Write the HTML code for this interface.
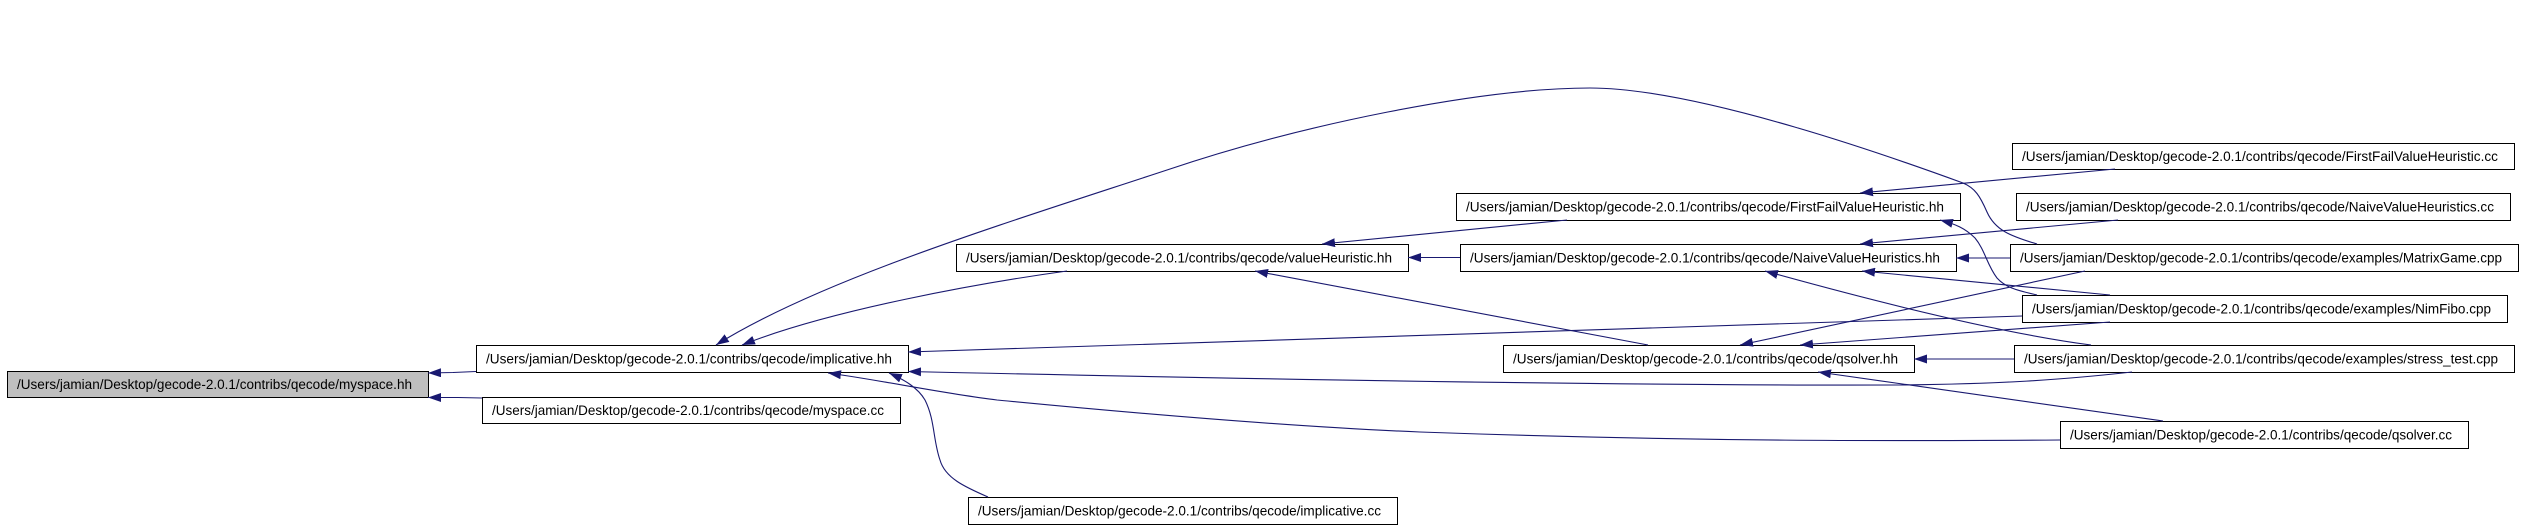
<!DOCTYPE html>
<html>
<head>
<meta charset="utf-8">
<style>
  html, body { margin: 0; padding: 0; background: #ffffff; }
  body { width: 2523px; height: 529px; overflow: hidden; }
  svg { display: block; }
  .n { fill: #ffffff; stroke: #000000; stroke-width: 1; }
  .g { fill: #bfbfbf; stroke: #000000; stroke-width: 1; }
  .t { font-family: "Liberation Sans", Arial, Helvetica, sans-serif; font-size: 13.55px; fill: #000000; }
  .e { fill: none; stroke: #191970; stroke-width: 1.1; }
</style>
</head>
<body>
<svg xmlns="http://www.w3.org/2000/svg" width="2523" height="529" viewBox="0 0 2523 529">
  <defs>
    <marker id="a" markerWidth="13" markerHeight="9" refX="13" refY="4.5" orient="auto" markerUnits="userSpaceOnUse">
      <path d="M0,0 L13,4.5 L0,9 z" fill="#191970"/>
    </marker>
  </defs>

  <!-- nodes -->
  <rect class="g" x="7.5" y="371.5" width="421" height="26"/>
  <text class="t" x="17" y="389" textLength="395" lengthAdjust="spacingAndGlyphs">/Users/jamian/Desktop/gecode-2.0.1/contribs/qecode/myspace.hh</text>

  <rect class="n" x="476.5" y="345.5" width="432" height="27"/>
  <text class="t" x="486" y="363.5" textLength="406" lengthAdjust="spacingAndGlyphs">/Users/jamian/Desktop/gecode-2.0.1/contribs/qecode/implicative.hh</text>

  <rect class="n" x="482.5" y="397.5" width="418" height="26"/>
  <text class="t" x="492" y="415" textLength="392" lengthAdjust="spacingAndGlyphs">/Users/jamian/Desktop/gecode-2.0.1/contribs/qecode/myspace.cc</text>

  <rect class="n" x="956.5" y="244.5" width="452" height="27"/>
  <text class="t" x="966" y="262.5" textLength="426" lengthAdjust="spacingAndGlyphs">/Users/jamian/Desktop/gecode-2.0.1/contribs/qecode/valueHeuristic.hh</text>

  <rect class="n" x="968.5" y="497.5" width="429" height="27"/>
  <text class="t" x="978" y="515.5" textLength="403" lengthAdjust="spacingAndGlyphs">/Users/jamian/Desktop/gecode-2.0.1/contribs/qecode/implicative.cc</text>

  <rect class="n" x="1456.5" y="193.5" width="504" height="27"/>
  <text class="t" x="1466" y="211.5" textLength="478" lengthAdjust="spacingAndGlyphs">/Users/jamian/Desktop/gecode-2.0.1/contribs/qecode/FirstFailValueHeuristic.hh</text>

  <rect class="n" x="1460.5" y="244.5" width="496" height="27"/>
  <text class="t" x="1470" y="262.5" textLength="470" lengthAdjust="spacingAndGlyphs">/Users/jamian/Desktop/gecode-2.0.1/contribs/qecode/NaiveValueHeuristics.hh</text>

  <rect class="n" x="1503.5" y="345.5" width="411" height="27"/>
  <text class="t" x="1513" y="363.5" textLength="385" lengthAdjust="spacingAndGlyphs">/Users/jamian/Desktop/gecode-2.0.1/contribs/qecode/qsolver.hh</text>

  <rect class="n" x="2012.5" y="143.5" width="502" height="26"/>
  <text class="t" x="2022" y="161" textLength="476" lengthAdjust="spacingAndGlyphs">/Users/jamian/Desktop/gecode-2.0.1/contribs/qecode/FirstFailValueHeuristic.cc</text>

  <rect class="n" x="2016.5" y="193.5" width="494" height="27"/>
  <text class="t" x="2026" y="211.5" textLength="468" lengthAdjust="spacingAndGlyphs">/Users/jamian/Desktop/gecode-2.0.1/contribs/qecode/NaiveValueHeuristics.cc</text>

  <rect class="n" x="2010.5" y="244.5" width="508" height="27"/>
  <text class="t" x="2020" y="262.5" textLength="482" lengthAdjust="spacingAndGlyphs">/Users/jamian/Desktop/gecode-2.0.1/contribs/qecode/examples/MatrixGame.cpp</text>

  <rect class="n" x="2022.5" y="295.5" width="485" height="27"/>
  <text class="t" x="2032" y="313.5" textLength="459" lengthAdjust="spacingAndGlyphs">/Users/jamian/Desktop/gecode-2.0.1/contribs/qecode/examples/NimFibo.cpp</text>

  <rect class="n" x="2014.5" y="345.5" width="500" height="27"/>
  <text class="t" x="2024" y="363.5" textLength="474" lengthAdjust="spacingAndGlyphs">/Users/jamian/Desktop/gecode-2.0.1/contribs/qecode/examples/stress_test.cpp</text>

  <rect class="n" x="2060.5" y="421.5" width="408" height="27"/>
  <text class="t" x="2070" y="439.5" textLength="382" lengthAdjust="spacingAndGlyphs">/Users/jamian/Desktop/gecode-2.0.1/contribs/qecode/qsolver.cc</text>

  <!-- edges (tail -> head, arrow at head) -->
  <!-- -> myspace.hh -->
  <path class="e" marker-end="url(#a)" d="M476,371.5 L453,372.5 L428,373"/>
  <path class="e" marker-end="url(#a)" d="M482,398 L458,397.5 L428,397.5"/>

  <!-- -> implicative.hh -->
  <path class="e" marker-end="url(#a)" d="M1067,271 C980,283 830,310 742,345"/>
  <path class="e" marker-end="url(#a)" d="M2037,244 C2010,236 1995,230 1987,212 C1980,196 1975,188 1963,183 C1900,160 1700,88 1590,88 C1480,88 1300,125 1167,170 C1000,225 820,280 716,345"/>
  <path class="e" marker-end="url(#a)" d="M2022,316 L908,352"/>
  <path class="e" marker-end="url(#a)" d="M2132,372 C2060,380 2000,384 1900,385 C1600,386 1200,378 908,371.5"/>
  <path class="e" marker-end="url(#a)" d="M988,497 C965,487 945,478 940,460 C933,440 935,420 925,400 C918,388 905,380 889,373"/>
  <path class="e" marker-end="url(#a)" d="M2060,440 C1900,441 1700,442 1420,432 C1250,425 1050,405 997,400 C940,393 880,380 828,373"/>

  <!-- -> valueHeuristic.hh -->
  <path class="e" marker-end="url(#a)" d="M1567,220 C1480,229 1400,236 1322,244"/>
  <path class="e" marker-end="url(#a)" d="M1460,257.5 L1408,257.5"/>
  <path class="e" marker-end="url(#a)" d="M1648,345 L1255,271"/>

  <!-- -> FirstFailValueHeuristic.hh -->
  <path class="e" marker-end="url(#a)" d="M2115,169 L1860,193"/>
  <path class="e" marker-end="url(#a)" d="M2037,295 C2015,290 2005,287 1997,278 C1987,265 1985,250 1975,238 C1965,228 1955,224 1940,220"/>

  <!-- -> NaiveValueHeuristics.hh -->
  <path class="e" marker-end="url(#a)" d="M2118,220 L1860,244"/>
  <path class="e" marker-end="url(#a)" d="M2010,258 L1956,258"/>
  <path class="e" marker-end="url(#a)" d="M2110,295 L1862,271"/>
  <path class="e" marker-end="url(#a)" d="M2091,345 C2000,333 1880,303 1765,271"/>

  <!-- -> qsolver.hh -->
  <path class="e" marker-end="url(#a)" d="M2085,271 L1740,345"/>
  <path class="e" marker-end="url(#a)" d="M2110,322 L1800,345"/>
  <path class="e" marker-end="url(#a)" d="M2014,359 L1914,359"/>
  <path class="e" marker-end="url(#a)" d="M2163,421 L1818,372"/>
</svg>
</body>
</html>
